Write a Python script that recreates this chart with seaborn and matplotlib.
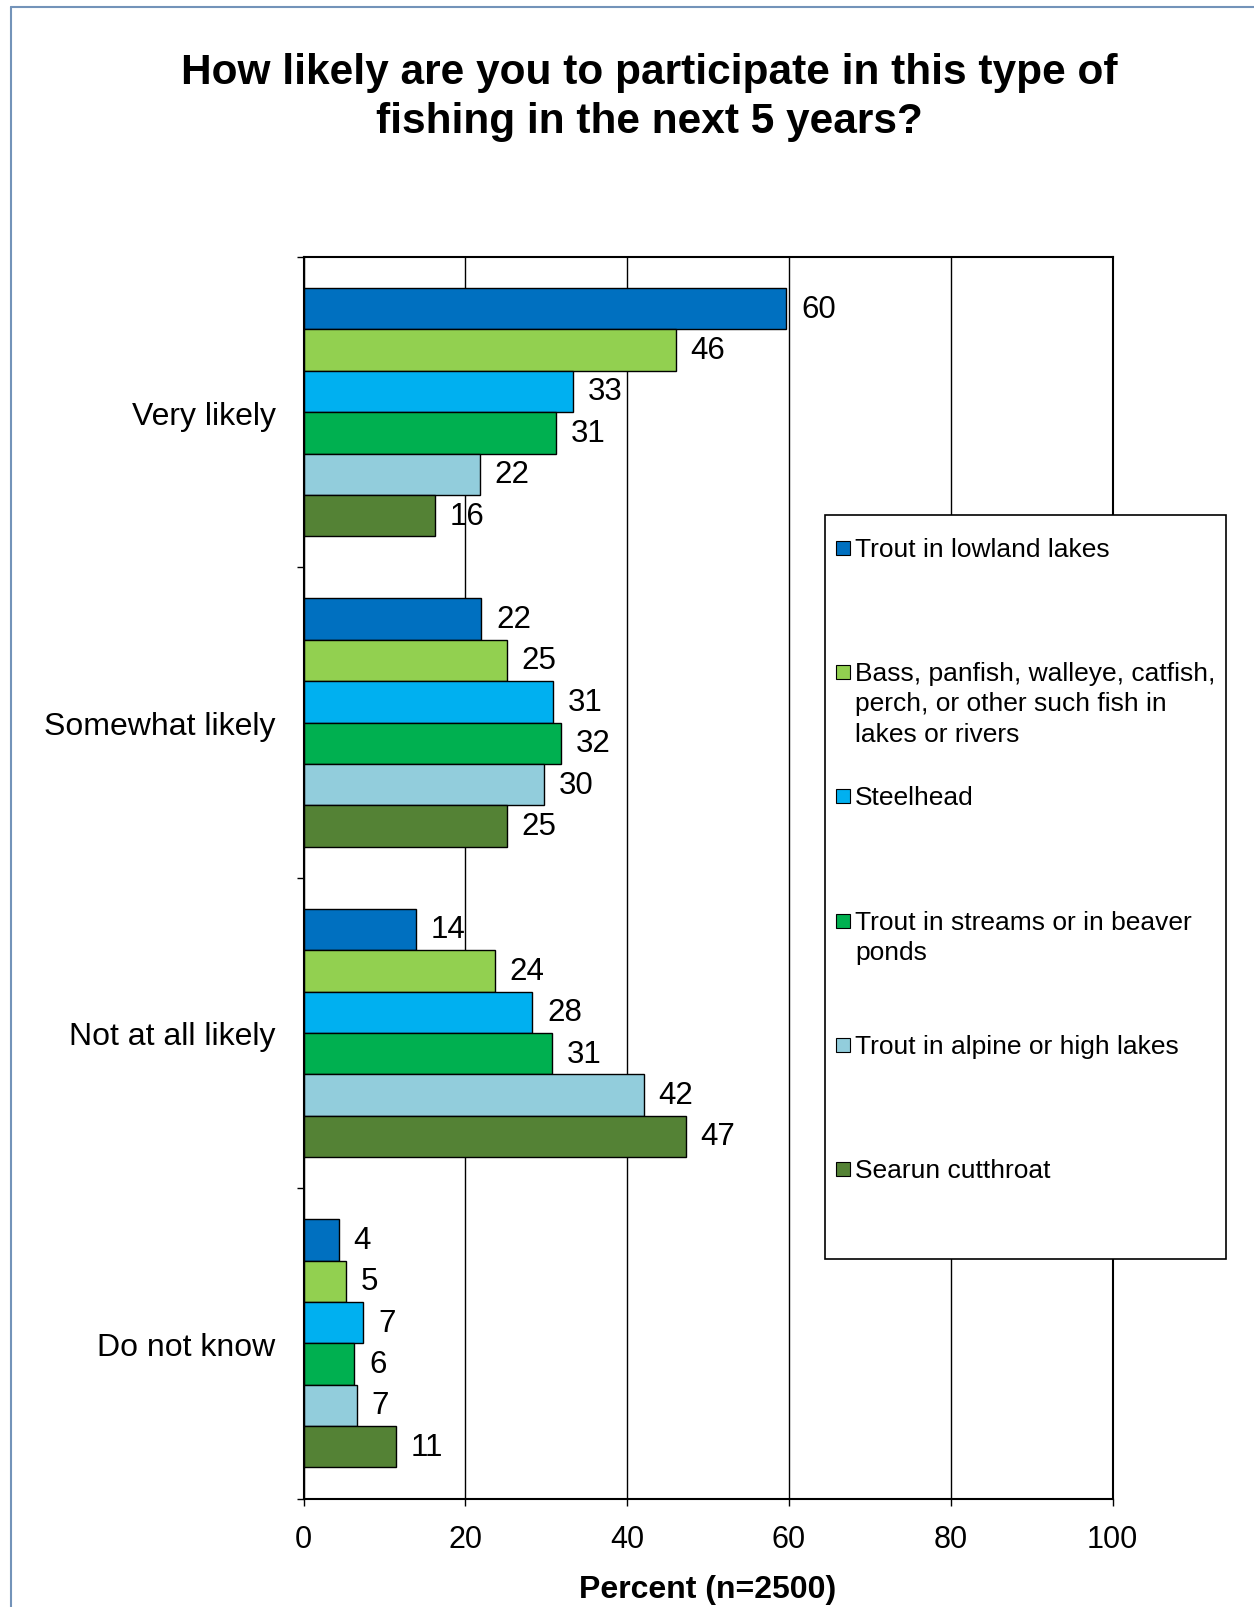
import pandas as pd
import matplotlib
matplotlib.use('Agg')
import matplotlib.pyplot as plt
from matplotlib.patches import Rectangle
from matplotlib.lines import Line2D
import seaborn as sns

# Survey answers and series
categories = ['Very likely', 'Somewhat likely', 'Not at all likely', 'Do not know']
series = ['Trout in lowland lakes',
          'Bass, panfish, walleye, catfish,\nperch, or other such fish in\nlakes or rivers',
          'Steelhead',
          'Trout in streams or in beaver\nponds',
          'Trout in alpine or high lakes',
          'Searun cutthroat']
colors = ['#0070C0', '#92D050', '#00B0F0', '#00B050', '#92CDDC', '#548235']

trout_lowland = [59.7, 22.0, 13.9, 4.4]
bass_etc = [46.0, 25.1, 23.7, 5.3]
steelhead = [33.3, 30.9, 28.3, 7.4]
trout_streams = [31.2, 31.8, 30.7, 6.3]
trout_alpine = [21.8, 29.7, 42.1, 6.6]
searun = [16.3, 25.1, 47.3, 11.4]

x_ticks = [0, 20, 40, 60, 80, 100]

values = [trout_lowland, bass_etc, steelhead, trout_streams, trout_alpine, searun]
rows = []
for name, vals in zip(series, values):
    for cat, v in zip(categories, vals):
        rows.append({'category': cat, 'series': name, 'percent': v})
df = pd.DataFrame(rows)

sns.set_style('white')
plt.rcParams['font.family'] = ['Liberation Sans', 'DejaVu Sans']
for key in ['text.color', 'axes.labelcolor', 'xtick.color', 'ytick.color']:
    plt.rcParams[key] = 'black'

W, H = 1254, 1608
fig = plt.figure(figsize=(W / 100, H / 100), dpi=100)


def fx(px):
    return px / W


def fy(py):
    return 1 - py / H


ax = fig.add_axes([fx(303.5), fy(1499.5), fx(1112.5) - fx(303.5), fy(258) - fy(1499.5)])

sns.barplot(data=df, y='category', x='percent', hue='series', order=categories,
            hue_order=series, palette=colors, orient='h', saturation=1,
            edgecolor='black', linewidth=1, errorbar=None, legend=False, ax=ax)

for cont in ax.containers:
    ax.bar_label(cont, fmt='%.0f', padding=10.5, fontsize=22.5)

ax.set_xlim(0, 100)
ax.set_ylim(3.5, -0.5)
ax.set_xticks(x_ticks)
ax.set_yticks(range(len(categories)))
ax.set_yticklabels(categories)
ax.set_yticks([i - 0.5 for i in range(len(categories) + 1)], minor=True)
ax.tick_params(axis='y', which='major', length=0, pad=20, labelsize=23)
ax.tick_params(axis='y', which='minor', length=5, width=1, direction='out', left=True)
ax.tick_params(axis='x', which='major', length=5, width=1, direction='out', bottom=True,
               pad=13.5, labelsize=22)
ax.grid(axis='x', color='black', linewidth=1)
ax.set_axisbelow(True)
for sp in ax.spines.values():
    sp.set_color('black')
    sp.set_linewidth(1.5)
ax.set_ylabel('')
ax.set_xlabel('Percent (n=2500)', fontsize=23, fontweight='bold', labelpad=14)

fig.text(0.518, fy(97.5), 'How likely are you to participate in this type of\nfishing in the next 5 years?',
         ha='center', va='center', fontsize=30.5, fontweight='bold', linespacing=1.28)

# legend drawn Excel-style: evenly spaced slots
fig.add_artist(Rectangle((fx(825), fy(1260)), fx(1226) - fx(825), fy(516) - fy(1260),
                         transform=fig.transFigure, facecolor='white', edgecolor='black',
                         linewidth=1.2, zorder=5))
for i, (name, col) in enumerate(zip(series, colors)):
    base = 558 + i * 124.2
    fig.add_artist(Rectangle((fx(836), fy(base - 2)), fx(14), fy(0) - fy(14),
                             transform=fig.transFigure, facecolor=col, edgecolor='black',
                             linewidth=0.8, zorder=6))
    fig.text(fx(855), fy(base - 20), name, ha='left', va='top', fontsize=19,
             linespacing=1.33, zorder=6)

# figure border (left and top edges)
border = '#7393B9'
fig.add_artist(Line2D([fx(11), fx(11)], [fy(8), 0], transform=fig.transFigure, color=border, lw=1.5))
fig.add_artist(Line2D([fx(11), 1], [fy(8), fy(8)], transform=fig.transFigure, color=border, lw=1.5))

fig.savefig('out.png', dpi=100)
